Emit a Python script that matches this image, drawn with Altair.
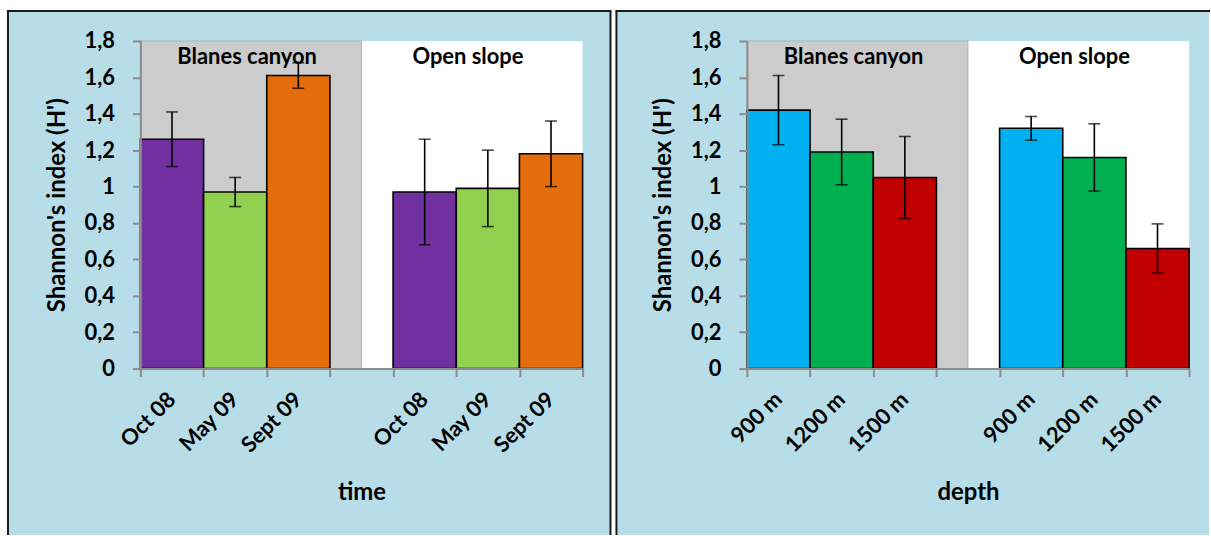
import altair as alt
import pandas as pd

# ---------------- data ----------------
time_labels = ["Oct 08", "May 09", "Sept 09"]
time_canyon = [1.26, 0.97, 1.61]
time_canyon_err = [0.15, 0.08, 0.07]
time_slope = [0.97, 0.99, 1.18]
time_slope_err = [0.29, 0.21, 0.18]

depth_labels = ["900 m", "1200 m", "1500 m"]
depth_canyon = [1.42, 1.19, 1.05]
depth_canyon_err = [0.19, 0.18, 0.225]
depth_slope = [1.32, 1.16, 0.66]
depth_slope_err = [0.065, 0.185, 0.135]

group_names = ["Blanes canyon", "Open slope"]
y_ticks = [0, 0.2, 0.4, 0.6, 0.8, 1.0, 1.2, 1.4, 1.6, 1.8]
header_level = 1.71

# ---------------- styles ----------------
time_colors = ["#7030A0", "#92D050", "#E46C0A"]
depth_colors = ["#00B0F0", "#00B050", "#C00000"]
PANEL_BG = "#B7DEE8"
CANYON_BG = "#CCCCCC"
AXIS_GREY = "#8C8C8C"
FONT = "Lato"
W, H = 444, 329


def panel(labels, canyon, canyon_err, slope, slope_err, colors, xtitle,
          frame_left, frame_right, frame_bottom, right_border=True):
    rows = []
    for lab, v, e in zip(labels, canyon, canyon_err):
        rows.append({"key": lab + "|BC", "label": lab, "value": v, "lo": v - e, "hi": v + e})
    for lab, v, e in zip(labels, slope, slope_err):
        rows.append({"key": lab + "|OS", "label": lab, "value": v, "lo": v - e, "hi": v + e})
    df = pd.DataFrame(rows)
    domain = [l + "|BC" for l in labels] + ["gap"] + [l + "|OS" for l in labels]

    xscale = alt.Scale(domain=domain, paddingInner=0, paddingOuter=0)
    yscale = alt.Scale(domain=[0, 1.8], nice=False)
    common = dict(zindex=1, labelFont=FONT, titleFont=FONT,
                  labelFontWeight="bold", titleFontWeight="bold",
                  labelColor="black", titleColor="black",
                  domainColor=AXIS_GREY, tickColor=AXIS_GREY,
                  domainWidth=2, tickWidth=2, grid=False)
    # axis with the category labels (centred on each bar)
    xaxis_labels = alt.Axis(
        orient="bottom", title=xtitle,
        labelExpr="datum.value == 'gap' ? '' : split(datum.value, '|')[0]",
        labelAngle=-45, labelAlign="right", labelBaseline="middle",
        ticks=False, tickSize=0, domain=False, labelPadding=27, titlePadding=25,
        labelFontSize=22, titleFontSize=24, **common,
    )
    # axis with the ticks placed at the bar boundaries
    xaxis_ticks = alt.Axis(
        orient="bottom", title=None, labels=False, tickBand="extent", tickSize=8, **common,
    )
    yaxis = alt.Axis(
        title="Shannon's index (H')", values=y_ticks, format="~g",
        labelExpr="replace(datum.label, '.', ',')",
        tickSize=8, labelPadding=18, titlePadding=15,
        labelFontSize=22, titleFontSize=24, **common,
    )
    X = lambda f, axis=None, **kw: alt.X(f, scale=xscale, axis=axis, **kw)
    Y = lambda f: alt.Y(f, scale=yscale, axis=yaxis)

    one = pd.DataFrame({"a": [0]})
    frame_bg = alt.Chart(one).mark_rect(color=PANEL_BG).encode(
        x=alt.value(frame_left), x2=alt.value(frame_right),
        y=alt.value(-30), y2=alt.value(frame_bottom))
    border_top = alt.Chart(one).mark_rule(color="#1a1a1a", strokeWidth=2).encode(
        x=alt.value(frame_left - 1), x2=alt.value(frame_right + 1),
        y=alt.value(-30))
    border_left = alt.Chart(one).mark_rule(color="#1a1a1a", strokeWidth=2).encode(
        x=alt.value(frame_left), y=alt.value(-30), y2=alt.value(frame_bottom))
    layers = [frame_bg, border_top, border_left]
    if right_border:
        layers.append(alt.Chart(one).mark_rule(color="#1a1a1a", strokeWidth=2).encode(
            x=alt.value(frame_right), y=alt.value(-30), y2=alt.value(frame_bottom)))

    plot_bg = alt.Chart(one).mark_rect(color="white").encode(
        x=alt.value(0), x2=alt.value("width"), y=alt.value(0), y2=alt.value("height"))
    canyon_bg = alt.Chart(pd.DataFrame({"start": [domain[0]], "end": ["gap"], "top": [1.8], "bottom": [0]})).mark_rect(
        color=CANYON_BG, stroke="#9a9a9a", strokeWidth=0.6).encode(
        x=X("start:N", axis=xaxis_ticks, bandPosition=0),
        x2=alt.X2("end", bandPosition=0.5),
        y=Y("top:Q"), y2=alt.Y2("bottom"))

    bars = alt.Chart(df).mark_bar(stroke="black", strokeWidth=1.6).encode(
        x=X("key:N", axis=xaxis_labels), y=Y("value:Q"),
        color=alt.Color("label:N", scale=alt.Scale(domain=labels, range=colors), legend=None))
    err = alt.Chart(df).mark_rule(color="black", strokeWidth=1.6).encode(
        x=X("key:N"), y=Y("lo:Q"), y2="hi:Q")
    cap_lo = alt.Chart(df).mark_tick(color="black", size=12, thickness=1.6).encode(
        x=X("key:N"), y=Y("lo:Q"))
    cap_hi = alt.Chart(df).mark_tick(color="black", size=12, thickness=1.6).encode(
        x=X("key:N"), y=Y("hi:Q"))

    head_bc = alt.Chart(pd.DataFrame({"key": [labels[1] + "|BC"], "t": [group_names[0]], "lvl": [header_level]})).mark_text(
        font=FONT, fontSize=22, fontWeight="bold", color="black", dx=12).encode(
        x=X("key:N"), y=Y("lvl:Q"), text="t:N")
    head_os = alt.Chart(pd.DataFrame({"key": [labels[1] + "|OS"], "t": [group_names[1]], "lvl": [header_level]})).mark_text(
        font=FONT, fontSize=22, fontWeight="bold", color="black", dx=-20).encode(
        x=X("key:N"), y=Y("lvl:Q"), text="t:N")

    layers += [plot_bg, canyon_bg, bars, err, cap_lo, cap_hi, head_bc, head_os]
    return alt.layer(*layers).resolve_axis(x="independent").properties(width=W, height=H)


left = panel(time_labels, time_canyon, time_canyon_err, time_slope, time_slope_err,
             time_colors, "time", -133, 472, 496)
right = panel(depth_labels, depth_canyon, depth_canyon_err, depth_slope, depth_slope_err,
              depth_colors, "depth", -131, 464, 496, right_border=False)

chart = alt.hconcat(left, right, spacing=2).resolve_scale(
    color="independent"
).properties(
    padding={"left": 6, "top": 9, "right": 0, "bottom": 0},
    background="white",
).configure_view(stroke=None)

chart.save("out.html", embed_options={"renderer": "svg", "actions": False})
